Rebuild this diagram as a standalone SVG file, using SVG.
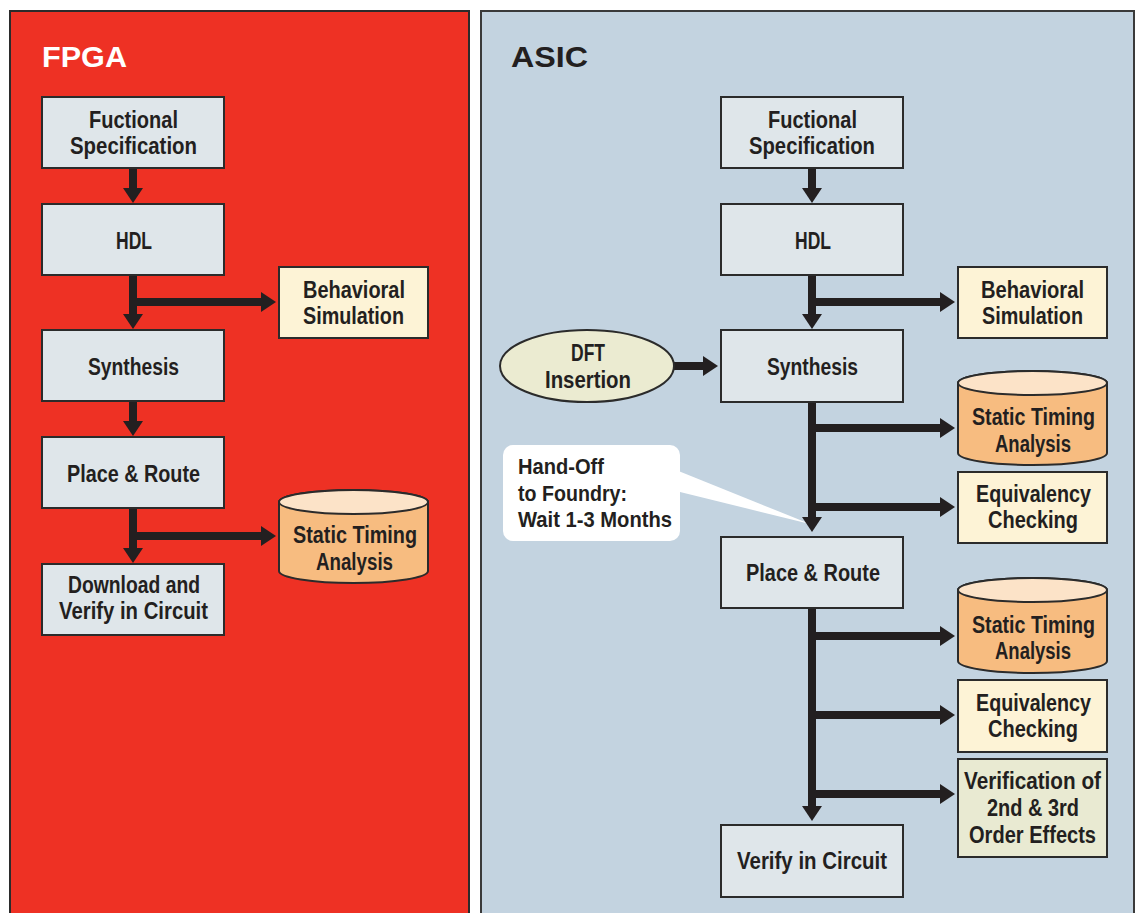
<svg xmlns="http://www.w3.org/2000/svg" width="1136" height="913" viewBox="0 0 1136 913">
<defs>
<style>
.t{font-family:"Liberation Sans",Arial,sans-serif;font-weight:bold;font-size:23px;fill:#231f20}
.c{font-size:22px}
.box{fill:#dfe6ea;stroke:#2b2b2b;stroke-width:2}
.yel{fill:#fdf3d6;stroke:#2b2b2b;stroke-width:2}
.olv{fill:#e9ead2;stroke:#2b2b2b;stroke-width:2}
.cylb{fill:#f7bc80;stroke:#2b2b2b;stroke-width:2}
.cylt{fill:#fce3c8;stroke:#2b2b2b;stroke-width:2}
.ln{stroke:#231f20;stroke-width:8;fill:none}
.ar{marker-end:url(#ah)}
</style>
<marker id="ah" markerUnits="userSpaceOnUse" markerWidth="16" markerHeight="20" refX="1" refY="10" orient="auto" overflow="visible">
<path d="M0,0 L15,10 L0,20 Z" fill="#231f20"/>
</marker>
</defs>

<g id="panel-fpga">
<rect x="10" y="11" width="459" height="910" fill="#ee3124" stroke="#2b2b2b" stroke-width="2"/>
<text class="t" x="42" y="67" style="font-size:30px;fill:#ffffff" textLength="85" lengthAdjust="spacingAndGlyphs">FPGA</text>
</g>
<g id="panel-asic">
<rect x="481" y="11" width="653" height="910" fill="#c3d3e0" stroke="#3a3a3a" stroke-width="2"/>
<text class="t" x="511" y="67" style="font-size:30px" textLength="77" lengthAdjust="spacingAndGlyphs">ASIC</text>
</g>

<g id="connectors">
<!-- FPGA -->
<line class="ln ar" x1="133" y1="168" x2="133" y2="189"/>
<line class="ln ar" x1="133" y1="275" x2="133" y2="315"/>
<line class="ln ar" x1="129" y1="302" x2="262" y2="302"/>
<line class="ln ar" x1="133" y1="401" x2="133" y2="422"/>
<line class="ln ar" x1="133" y1="508" x2="133" y2="549"/>
<line class="ln ar" x1="129" y1="536" x2="262" y2="536"/>
<!-- ASIC -->
<line class="ln ar" x1="812" y1="168" x2="812" y2="189"/>
<line class="ln ar" x1="812" y1="275" x2="812" y2="315"/>
<line class="ln ar" x1="808" y1="302" x2="941" y2="302"/>
<line class="ln ar" x1="674" y1="366" x2="704" y2="366"/>
<line class="ln" x1="812" y1="402" x2="812" y2="510"/>
<line class="ln ar" x1="808" y1="428" x2="941" y2="428"/>
<line class="ln ar" x1="808" y1="507" x2="941" y2="507"/>
<line class="ln ar" x1="812" y1="608" x2="812" y2="807"/>
<line class="ln ar" x1="808" y1="636" x2="941" y2="636"/>
<line class="ln ar" x1="808" y1="715" x2="941" y2="715"/>
<line class="ln ar" x1="808" y1="794" x2="941" y2="794"/>
</g>

<g id="callout">
<rect x="503" y="445" width="177" height="96" rx="10" fill="#ffffff"/>
<polygon points="676,470 676,491 810,524" fill="#ffffff"/>
<text class="t c" x="518" y="474" textLength="86" lengthAdjust="spacingAndGlyphs">Hand-Off</text>
<text class="t c" x="518" y="501" textLength="109" lengthAdjust="spacingAndGlyphs">to Foundry:</text>
<text class="t c" x="518" y="527" textLength="154" lengthAdjust="spacingAndGlyphs">Wait 1-3 Months</text>
</g>
<g id="asic-connector-tail">
<line class="ln ar" x1="812" y1="505" x2="812" y2="518"/>
</g>

<!-- FPGA nodes -->
<g id="f-spec"><rect class="box" x="42" y="97" width="182" height="71"/>
<text class="t" x="89" y="128" textLength="89" lengthAdjust="spacingAndGlyphs">Fuctional</text>
<text class="t" x="70" y="154" textLength="127" lengthAdjust="spacingAndGlyphs">Specification</text></g>
<g id="f-hdl"><rect class="box" x="42" y="204" width="182" height="71"/>
<text class="t" x="116" y="249" textLength="36" lengthAdjust="spacingAndGlyphs">HDL</text></g>
<g id="f-behav"><rect class="yel" x="279" y="267" width="149" height="71"/>
<text class="t" x="303" y="298" textLength="102" lengthAdjust="spacingAndGlyphs">Behavioral</text>
<text class="t" x="303" y="324" textLength="101" lengthAdjust="spacingAndGlyphs">Simulation</text></g>
<g id="f-synth"><rect class="box" x="42" y="330" width="182" height="71"/>
<text class="t" x="88" y="375" textLength="91" lengthAdjust="spacingAndGlyphs">Synthesis</text></g>
<g id="f-pr"><rect class="box" x="42" y="437" width="182" height="71"/>
<text class="t" x="67" y="482" textLength="133" lengthAdjust="spacingAndGlyphs">Place &amp; Route</text></g>
<g id="f-sta"><path class="cylb" d="M279,502 A74.5,12 0 0 1 428,502 V571 A74.5,12 0 0 1 279,571 Z"/>
<ellipse class="cylt" cx="353.5" cy="502" rx="74.5" ry="12"/>
<text class="t" x="293" y="543" textLength="124" lengthAdjust="spacingAndGlyphs">Static Timing</text>
<text class="t" x="316" y="570" textLength="77" lengthAdjust="spacingAndGlyphs">Analysis</text></g>
<g id="f-download"><rect class="box" x="42" y="564" width="182" height="71"/>
<text class="t" x="68" y="593" textLength="132" lengthAdjust="spacingAndGlyphs">Download and</text>
<text class="t" x="59" y="619" textLength="149" lengthAdjust="spacingAndGlyphs">Verify in Circuit</text></g>

<!-- ASIC nodes -->
<g id="a-spec"><rect class="box" x="721" y="97" width="182" height="71"/>
<text class="t" x="768" y="128" textLength="89" lengthAdjust="spacingAndGlyphs">Fuctional</text>
<text class="t" x="749" y="154" textLength="126" lengthAdjust="spacingAndGlyphs">Specification</text></g>
<g id="a-hdl"><rect class="box" x="721" y="204" width="182" height="71"/>
<text class="t" x="795" y="249" textLength="36" lengthAdjust="spacingAndGlyphs">HDL</text></g>
<g id="a-behav"><rect class="yel" x="958" y="267" width="149" height="71"/>
<text class="t" x="981" y="298" textLength="103" lengthAdjust="spacingAndGlyphs">Behavioral</text>
<text class="t" x="982" y="324" textLength="101" lengthAdjust="spacingAndGlyphs">Simulation</text></g>
<g id="a-dft"><ellipse cx="587" cy="366" rx="87" ry="36" fill="#ebebd1" stroke="#2b2b2b" stroke-width="2"/>
<text class="t" x="571" y="361" textLength="34" lengthAdjust="spacingAndGlyphs">DFT</text>
<text class="t" x="545" y="388" textLength="86" lengthAdjust="spacingAndGlyphs">Insertion</text></g>
<g id="a-synth"><rect class="box" x="721" y="330" width="182" height="72"/>
<text class="t" x="767" y="375" textLength="91" lengthAdjust="spacingAndGlyphs">Synthesis</text></g>
<g id="a-sta1"><path class="cylb" d="M958,383 A74.5,12 0 0 1 1107,383 V453 A74.5,12 0 0 1 958,453 Z"/>
<ellipse class="cylt" cx="1032.5" cy="383" rx="74.5" ry="12"/>
<text class="t" x="972" y="425" textLength="123" lengthAdjust="spacingAndGlyphs">Static Timing</text>
<text class="t" x="995" y="452" textLength="76" lengthAdjust="spacingAndGlyphs">Analysis</text></g>
<g id="a-eq1"><rect class="yel" x="958" y="472" width="149" height="71"/>
<text class="t" x="976" y="502" textLength="115" lengthAdjust="spacingAndGlyphs">Equivalency</text>
<text class="t" x="988" y="528" textLength="90" lengthAdjust="spacingAndGlyphs">Checking</text></g>
<g id="a-pr"><rect class="box" x="721" y="537" width="182" height="71"/>
<text class="t" x="746" y="581" textLength="134" lengthAdjust="spacingAndGlyphs">Place &amp; Route</text></g>
<g id="a-sta2"><path class="cylb" d="M958,590 A74.5,12 0 0 1 1107,590 V661 A74.5,12 0 0 1 958,661 Z"/>
<ellipse class="cylt" cx="1032.5" cy="590" rx="74.5" ry="12"/>
<text class="t" x="972" y="633" textLength="123" lengthAdjust="spacingAndGlyphs">Static Timing</text>
<text class="t" x="995" y="659" textLength="76" lengthAdjust="spacingAndGlyphs">Analysis</text></g>
<g id="a-eq2"><rect class="yel" x="958" y="680" width="149" height="72"/>
<text class="t" x="976" y="711" textLength="115" lengthAdjust="spacingAndGlyphs">Equivalency</text>
<text class="t" x="988" y="737" textLength="90" lengthAdjust="spacingAndGlyphs">Checking</text></g>
<g id="a-verif"><rect class="olv" x="958" y="759" width="149" height="98"/>
<text class="t" x="964" y="789" textLength="137" lengthAdjust="spacingAndGlyphs">Verification of</text>
<text class="t" x="987" y="816" textLength="92" lengthAdjust="spacingAndGlyphs">2nd &amp; 3rd</text>
<text class="t" x="969" y="843" textLength="127" lengthAdjust="spacingAndGlyphs">Order Effects</text></g>
<g id="a-verify"><rect class="box" x="721" y="825" width="182" height="72"/>
<text class="t" x="737" y="869" textLength="150" lengthAdjust="spacingAndGlyphs">Verify in Circuit</text></g>
</svg>
